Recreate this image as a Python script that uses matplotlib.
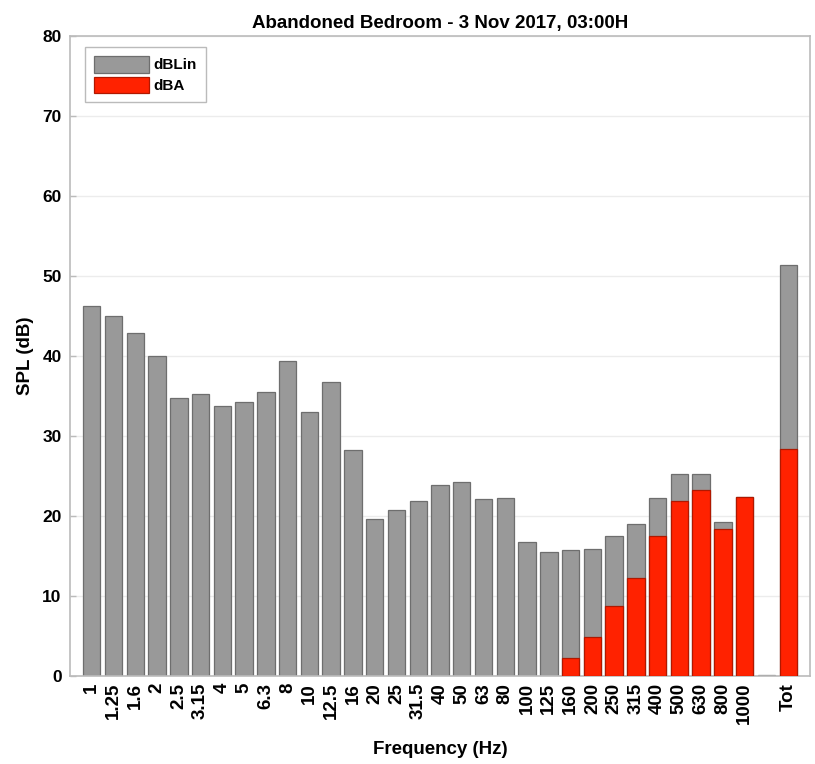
import numpy as np
import matplotlib
matplotlib.use("Agg")
import matplotlib.pyplot as plt

plt.rcParams['font.family'] = ['Liberation Sans', 'DejaVu Sans']

bands = ["1", "1.25", "1.6", "2", "2.5", "3.15", "4", "5", "6.3", "8", "10", "12.5",
         "16", "20", "25", "31.5", "40", "50", "63", "80", "100", "125", "160", "200",
         "250", "315", "400", "500", "630", "800", "1000", "", "Tot"]
dblin = [46.2, 45.0, 42.9, 40.0, 34.8, 35.2, 33.8, 34.3, 35.5, 39.4, 33.0, 36.8,
         28.2, 19.6, 20.8, 21.9, 23.9, 24.3, 22.1, 22.3, 16.7, 15.5, 15.7, 15.9,
         17.5, 19.0, 22.2, 25.2, 25.3, 19.2, 22.4, 0.15, 51.4]
dba = [np.nan] * 22 + [2.3, 4.9, 8.8, 12.3, 17.5, 21.9, 23.3, 18.4, 22.4, np.nan, 28.4]

fig = plt.figure(figsize=(8.15, 7.64), dpi=100)
ax = fig.add_axes([0.0859, 0.1152, 0.9080, 0.8377])

x = np.arange(len(bands))
ax.bar(x, dblin, width=0.8, color="#999999", edgecolor="#6e6e6e", linewidth=0.9,
       label="dBLin", zorder=2)
ax.bar(x, dba, width=0.8, color="#ff2200", edgecolor="#b01800", linewidth=0.9,
       label="dBA", zorder=3)

ax.set_xlim(-1, 33)
ax.set_ylim(0, 80)
ax.set_yticks(np.arange(0, 81, 10))
ax.set_xticks(x)
ax.set_xticklabels(bands, rotation=90, fontsize=13.5, fontweight="bold")
for lab in ax.get_yticklabels():
    lab.set_fontweight("bold")
    lab.set_fontsize(12.5)
ax.tick_params(axis="x", length=0, pad=5)
ax.tick_params(axis="y", direction="in", length=4, width=1, color="#bbbbbb", pad=6)
ax.grid(axis="y", color="#ececec", linewidth=1, zorder=0)
ax.set_axisbelow(True)
for s in ax.spines.values():
    s.set_color("#bbbbbb")
    s.set_linewidth(1.2)

ax.set_title("Abandoned Bedroom - 3 Nov 2017, 03:00H", fontsize=13.5, fontweight="bold", pad=6)
ax.set_xlabel("Frequency (Hz)", fontsize=13.5, fontweight="bold", labelpad=12)
ax.set_ylabel("SPL (dB)", fontsize=13.5, fontweight="bold", labelpad=6)

leg = ax.legend(loc="upper left", fontsize=11, frameon=True, fancybox=False,
                edgecolor="#aaaaaa", handlelength=3.6, handleheight=1.3,
                borderpad=0.6, labelspacing=0.25, handletextpad=0.3,
                borderaxespad=0, bbox_to_anchor=(0.02, 0.983))
for t in leg.get_texts():
    t.set_fontweight("bold")

fig.savefig("out.png", dpi=100)
